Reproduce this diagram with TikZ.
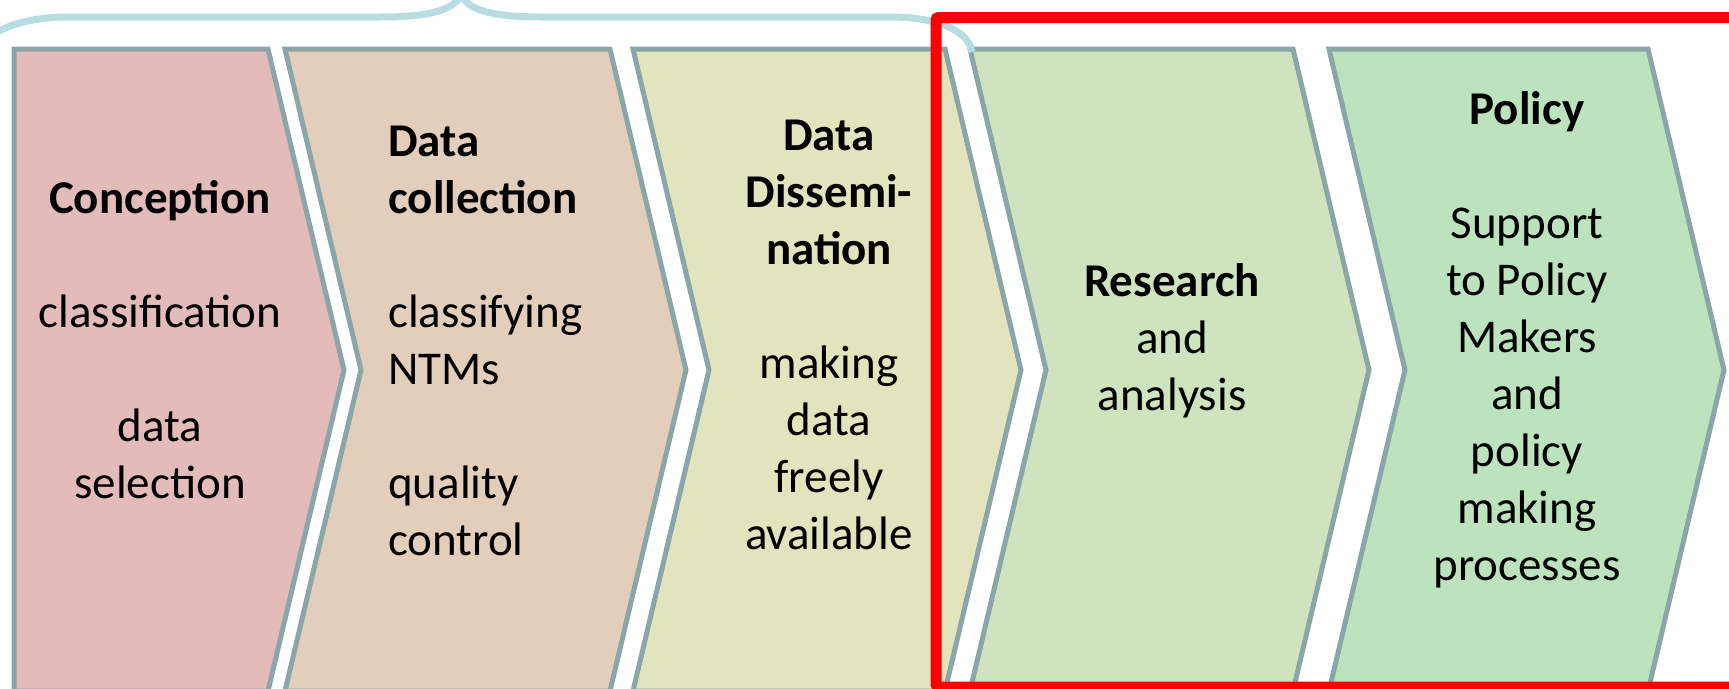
\documentclass[tikz,border=0pt]{standalone}
\usepackage{fontspec}
\setmainfont{Carlito}
\usepackage{tikz}

\definecolor{stageedge}{RGB}{139,166,168}
\definecolor{pinkfill}{RGB}{227,187,187}
\definecolor{tanfill}{RGB}{226,206,186}
\definecolor{olivefill}{RGB}{225,228,188}
\definecolor{palegreen}{RGB}{207,227,190}
\definecolor{greenfill}{RGB}{189,226,190}
\definecolor{bracecol}{RGB}{183,221,224}

\begin{document}
\begin{tikzpicture}[x=0.75pt,y=0.75pt,yscale=-1,xscale=1,
  stage/.style={draw=stageedge, line width=3.75pt, line join=miter},
  stagetext/.style={inner sep=0pt, font=\fontsize{35.25}{42.75}\selectfont},
  bracearc/.style={draw=bracecol, line width=5.25pt},
  redframe/.style={draw=red, line width=8.25pt, rounded corners=2pt}]
\useasboundingbox (0,0) rectangle (1729,689);
\clip (0,0) rectangle (1729,689);

%Shape: Pentagon [id:conception]
\draw [stage, fill=pinkfill] (14,49) -- (268,49) -- (344,370) -- (268,691) -- (14,691) -- cycle ;
%Shape: Chevron [id:collection]
\draw [stage, fill=tanfill] (285,49) -- (610,49) -- (686,370) -- (610,691) -- (285,691) -- (361,370) -- cycle ;
%Shape: Chevron [id:dissemination]
\draw [stage, fill=olivefill] (633,49) -- (945,49) -- (1021,370) -- (945,691) -- (633,691) -- (709,370) -- cycle ;
%Shape: Chevron [id:research]
\draw [stage, fill=palegreen] (970,49) -- (1293,49) -- (1369,370) -- (1293,691) -- (970,691) -- (1046,370) -- cycle ;
%Shape: Chevron [id:policy]
\draw [stage, fill=greenfill] (1329,49) -- (1648,49) -- (1724,370) -- (1648,691) -- (1329,691) -- (1405,370) -- cycle ;

%Curve Lines [id:brace]
\draw [bracearc] (-25,60) .. controls (-20,30) and (25,17) .. (67,17) -- (380,17) .. controls (430,17) and (455,10) .. (461,-6) .. controls (467,10) and (492,17) .. (542,17) -- (890,17) .. controls (932,17) and (968,28) .. (972,52) ;

%Shape: Rectangle [id:frame]
\draw [redframe] (936,17.5) rectangle (1745,687) ;

% Text Node
\node [stagetext, anchor=base, align=center] (conception) at (160,498) {\textbf{Conception}\\ \\classification\\ \\data\\selection};
% Text Node
\node [stagetext, anchor=base west, align=left] (collection) at (388,555) {\textbf{Data}\\\textbf{collection}\\ \\classifying\\NTMs\\ \\quality\\control};
% Text Node
\node [stagetext, anchor=base, align=center] (dissemination) at (829,549) {\textbf{Data}\\\textbf{Dissemi-}\\\textbf{nation}\\ \\making\\data\\freely\\available};
% Text Node
\node [stagetext, anchor=base, align=center] (research) at (1172,410) {\textbf{Research}\\and\\analysis};
% Text Node
\node [stagetext, anchor=base, align=center] (policy) at (1527,580) {\textbf{Policy}\\ \\Support\\to Policy\\Makers\\and\\policy\\making\\processes};

\end{tikzpicture}
\end{document}
